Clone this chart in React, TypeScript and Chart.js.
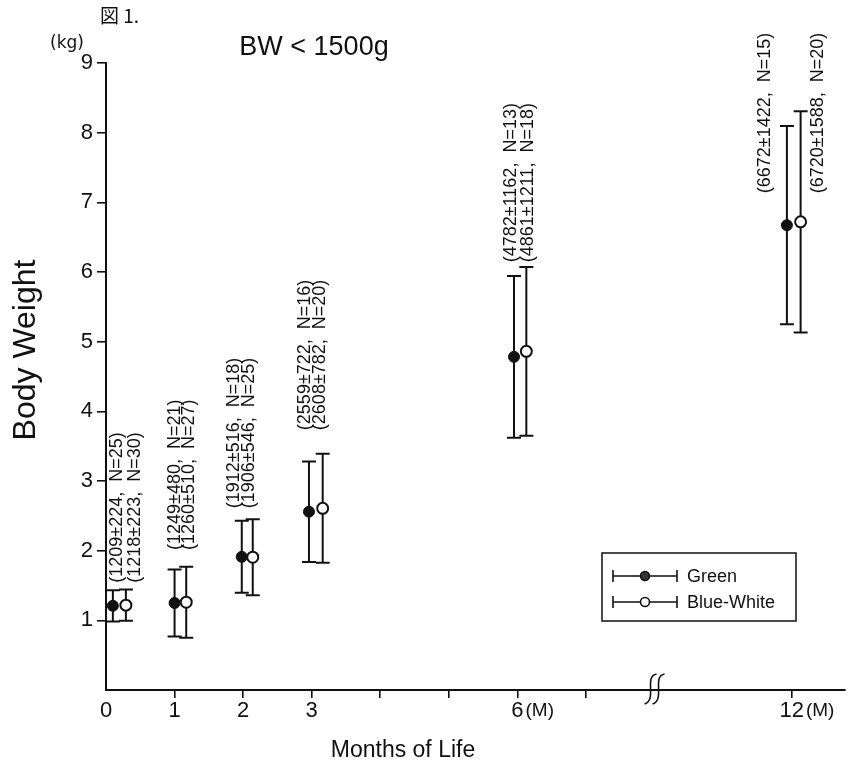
import React, { useEffect, useRef } from "react";
import { Chart, registerables } from "chart.js";

Chart.register(...registerables);

// ---- data (weights in grams) ----
const months = [0, 1, 2, 3, 6, 12];
const greenMean = [1209, 1249, 1912, 2559, 4782, 6672];
const greenSD = [224, 480, 516, 722, 1162, 1422];
const greenN = [25, 21, 18, 16, 13, 15];
const blueMean = [1218, 1260, 1906, 2608, 4861, 6720];
const blueSD = [223, 510, 546, 782, 1211, 1588];
const blueN = [30, 27, 25, 20, 18, 20];
// horizontal placement (months) of each group's marker
const greenPlotMonth = [0.1, 1.0, 1.98, 2.96, 5.95, 11.86];
const bluePlotMonth = [0.29, 1.17, 2.14, 3.16, 6.13, 12.26];
// tick labels
const yTickValues = [0, 1, 2, 3, 4, 5, 6, 7, 8, 9];
const xTickMonths = [0, 1, 2, 3, 4, 5, 6, 7, 12];
const xTickLabels = ["0", "1", "2", "3", "", "", "6", "", "12"];
const xUnitMonths = [6, 12];
const seriesNames = ["Green", "Blue-White"];

// ---- layout of the rotated annotations (month position, bottom in kg) ----
const greenLabelMonth = [0.16, 1.0, 1.86, 2.9, 5.9, 11.22];
const blueLabelMonth = [0.42, 1.21, 2.09, 3.12, 6.15, 12.76];
const labelBaseKg = [1.54, 2.01, 2.61, 3.73, 6.14, 7.13];

const BREAK_AT = 8;
const pos = (m: number) => (m <= BREAK_AT ? m : BREAK_AT + (m - BREAK_AT) / 2);
const INK = "#111";
const SANS = '"Liberation Sans", Arial, sans-serif';

function fmt(mean: number, sd: number, n: number) {
  return `(${mean}\u00b1${sd},  N=${n})`;
}

const decorPlugin = {
  id: "decor",
  beforeDatasetsDraw(chart: any) {
    const ctx = chart.ctx;
    const xs = chart.scales.x;
    const ys = chart.scales.y;
    ctx.save();
    ctx.strokeStyle = INK;
    ctx.lineWidth = 2;
    const drawBar = (pm: number, mean: number, sd: number) => {
      const x = xs.getPixelForValue(pos(pm));
      const yt = ys.getPixelForValue((mean + sd) / 1000);
      const yb = ys.getPixelForValue((mean - sd) / 1000);
      ctx.beginPath();
      ctx.moveTo(x, yt);
      ctx.lineTo(x, yb);
      ctx.moveTo(x - 7, yt);
      ctx.lineTo(x + 7, yt);
      ctx.moveTo(x - 7, yb);
      ctx.lineTo(x + 7, yb);
      ctx.stroke();
    };
    months.forEach((_, i) => {
      drawBar(greenPlotMonth[i], greenMean[i], greenSD[i]);
      drawBar(bluePlotMonth[i], blueMean[i], blueSD[i]);
    });
    ctx.restore();
  },
  afterDraw(chart: any) {
    const ctx = chart.ctx;
    const xs = chart.scales.x;
    const ys = chart.scales.y;
    const area = chart.chartArea;
    ctx.save();
    ctx.fillStyle = INK;
    ctx.strokeStyle = INK;

    // rotated annotations
    ctx.font = `18px ${SANS}`;
    ctx.textAlign = "left";
    ctx.textBaseline = "middle";
    const drawRot = (text: string, m: number, kg: number) => {
      const x = xs.getPixelForValue(pos(m));
      const y = ys.getPixelForValue(kg);
      ctx.save();
      ctx.translate(x, y);
      ctx.rotate(-Math.PI / 2);
      ctx.fillText(text, 0, 0);
      ctx.restore();
    };
    months.forEach((_, i) => {
      drawRot(fmt(greenMean[i], greenSD[i], greenN[i]), greenLabelMonth[i], labelBaseKg[i]);
      drawRot(fmt(blueMean[i], blueSD[i], blueN[i]), blueLabelMonth[i], labelBaseKg[i]);
    });

    // unit after 6 and 12 tick labels
    const tickFont = `22px ${SANS}`;
    xUnitMonths.forEach((m) => {
      const idx = xTickMonths.indexOf(m);
      const lab = xTickLabels[idx];
      ctx.font = tickFont;
      const w = ctx.measureText(lab).width;
      const x = xs.getPixelForValue(pos(m)) + w / 2 + 2;
      ctx.font = `19px ${SANS}`;
      ctx.textAlign = "left";
      ctx.textBaseline = "middle";
      ctx.fillText("(M)", x, area.bottom + 21);
    });

    // axis break
    const bx = xs.getPixelForValue(BREAK_AT);
    const by = area.bottom;
    ctx.lineWidth = 1.6;
    [-4, 4].forEach((dx) => {
      const cx = bx + dx;
      ctx.beginPath();
      ctx.moveTo(cx + 6, by - 16);
      ctx.bezierCurveTo(cx - 7, by - 14, cx + 7, by + 10, cx - 6, by + 14);
      ctx.stroke();
    });

    // titles
    ctx.textAlign = "left";
    ctx.textBaseline = "middle";
    ctx.font = '19px "Noto Sans CJK JP", sans-serif';
    ctx.fillText("図 1.", 100, 16);
    ctx.font = `17px "DejaVu Sans", sans-serif`;
    ctx.fillText("(kg)", 50, 44);
    ctx.textAlign = "center";
    ctx.textBaseline = "alphabetic";
    ctx.font = `27px ${SANS}`;
    ctx.fillText("BW < 1500g", 314, 55);
    ctx.font = `23px ${SANS}`;
    ctx.fillText("Months of Life", 403, 757);
    ctx.save();
    ctx.translate(26, 350);
    ctx.rotate(-Math.PI / 2);
    ctx.textBaseline = "middle";
    ctx.font = `32px ${SANS}`;
    ctx.fillText("Body Weight", 0, 0);
    ctx.restore();

    // legend
    const lx = 602, ly = 553, lw = 194, lh = 68;
    ctx.lineWidth = 1.5;
    ctx.strokeRect(lx, ly, lw, lh);
    const rows = [576, 602];
    rows.forEach((ry, i) => {
      ctx.lineWidth = 1.6;
      ctx.beginPath();
      ctx.moveTo(613, ry - 6);
      ctx.lineTo(613, ry + 6);
      ctx.moveTo(613, ry);
      ctx.lineTo(677, ry);
      ctx.moveTo(677, ry - 6);
      ctx.lineTo(677, ry + 6);
      ctx.stroke();
      ctx.beginPath();
      ctx.arc(645, ry, 4.5, 0, Math.PI * 2);
      ctx.fillStyle = i === 0 ? "#333" : "#fff";
      ctx.fill();
      ctx.stroke();
      ctx.fillStyle = INK;
      ctx.font = `18px ${SANS}`;
      ctx.textAlign = "left";
      ctx.textBaseline = "middle";
      ctx.fillText(seriesNames[i], 687, ry + 1);
    });
    ctx.restore();
  },
};

export default function App() {
  const ref = useRef<HTMLCanvasElement | null>(null);
  useEffect(() => {
    if (!ref.current) return;
    const chart = new Chart(ref.current, {
      type: "scatter",
      data: {
        datasets: [
          {
            label: seriesNames[0],
            data: months.map((_, i) => ({ x: pos(greenPlotMonth[i]), y: greenMean[i] / 1000 })),
            pointRadius: 5.5,
            pointBackgroundColor: INK,
            pointBorderColor: INK,
            pointBorderWidth: 1,
            showLine: false,
          },
          {
            label: seriesNames[1],
            data: months.map((_, i) => ({ x: pos(bluePlotMonth[i]), y: blueMean[i] / 1000 })),
            pointRadius: 5.5,
            pointBackgroundColor: "#fff",
            pointBorderColor: INK,
            pointBorderWidth: 2,
            showLine: false,
          },
        ],
      },
      options: {
        responsive: false,
        animation: false,
        devicePixelRatio: 1,
        layout: { padding: { top: 63, left: 0, right: 0, bottom: 0 } },
        plugins: { legend: { display: false }, tooltip: { enabled: false }, title: { display: false } },
        scales: {
          x: {
            type: "linear",
            min: 0,
            max: 10.77,
            afterFit: (s: any) => {
              s.height = 72;
            },
            afterBuildTicks: (s: any) => {
              s.ticks = xTickMonths.map((m) => ({ value: pos(m) }));
            },
            ticks: {
              autoSkip: false,
              maxRotation: 0,
              color: INK,
              font: { size: 22, family: SANS },
              padding: 0,
              callback: (v: any) => {
                const idx = xTickMonths.findIndex((m) => Math.abs(pos(m) - Number(v)) < 1e-6);
                return idx >= 0 ? xTickLabels[idx] : "";
              },
            },
            grid: {
              drawOnChartArea: false,
              drawTicks: true,
              tickLength: 8,
              lineWidth: 1.6,
              color: (c: any) => (c.tick && c.tick.value === 0 ? "rgba(0,0,0,0)" : INK),
            },
            border: { display: true, color: INK, width: 2 },
          },
          y: {
            type: "linear",
            min: 0,
            max: 9,
            afterFit: (s: any) => {
              s.width = 106;
            },
            afterBuildTicks: (s: any) => {
              s.ticks = yTickValues.map((v) => ({ value: v }));
            },
            ticks: {
              color: INK,
              font: { size: 22, family: SANS },
              padding: 4,
              callback: (v: any) => (Number(v) === 0 ? "" : String(v)),
            },
            grid: {
              drawOnChartArea: false,
              drawTicks: true,
              tickLength: 9,
              lineWidth: 1.6,
              color: (c: any) => (c.tick && c.tick.value === 0 ? "rgba(0,0,0,0)" : INK),
            },
            border: { display: true, color: INK, width: 2 },
          },
        },
      },
      plugins: [decorPlugin],
    });
    return () => chart.destroy();
  }, []);
  return (
    <div style={{ position: "fixed", left: 0, top: 0, width: 852, height: 762, background: "#fff" }}>
      <canvas ref={ref} width={852} height={762} />
    </div>
  );
}
